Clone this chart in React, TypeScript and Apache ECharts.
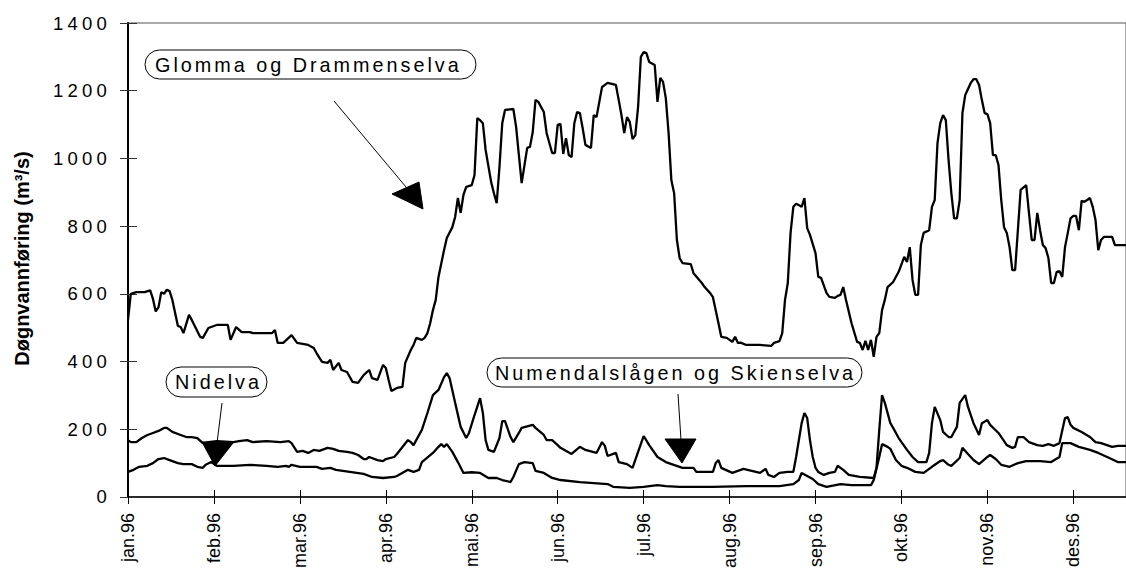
import React, { useEffect, useRef } from "react";
import * as echarts from "echarts";

const FONT = "'Liberation Sans', Arial, sans-serif";

const monthLabels = ["jan.96", "feb.96", "mar.96", "apr.96", "mai.96", "jun.96", "jul.96", "aug.96", "sep.96", "okt.96", "nov.96", "des.96"];
const yTicks = { min: 0, max: 1400, step: 200 };

// Glomma og Drammenselva (day of year, m3/s)
const glommaDays = [0, 1, 3, 6, 8, 9, 10, 11, 12, 13, 14, 15, 16, 18, 19, 20, 22, 23, 26, 27, 29, 32, 36, 37, 39, 41, 44, 45, 52, 53, 54, 56, 59, 61, 65, 67, 68, 70, 72, 73, 74, 76, 77, 79, 81, 83, 85, 87, 88, 90, 92, 93, 94, 95, 97, 99, 100, 102, 103, 104, 106, 107, 108, 109, 110, 111, 112, 114, 115, 117, 118, 119, 120, 121, 122, 124, 125, 126, 127, 128, 129, 131, 132, 133, 134, 135, 136, 139, 140, 141, 142, 144, 145, 146, 147, 148, 150, 151, 153, 154, 155, 156, 157, 158, 159, 160, 161, 162, 163, 164, 165, 167, 168, 169, 171, 173, 176, 177, 178, 179, 180, 181, 182, 183, 184, 185, 186, 187, 188, 190, 191, 192, 193, 194, 195, 196, 197, 198, 199, 200, 203, 204, 207, 208, 210, 211, 213, 214, 216, 218, 219, 220, 221, 223, 228, 232, 233, 235, 236, 237, 238, 239, 240, 241, 242, 243, 244, 245, 246, 248, 249, 250, 252, 253, 255, 256, 257, 258, 259, 261, 263, 264, 265, 266, 267, 268, 269, 270, 271, 272, 273, 274, 276, 278, 280, 281, 282, 283, 284, 285, 286, 287, 289, 290, 291, 292, 293, 294, 295, 296, 297, 298, 299, 300, 301, 302, 303, 304, 305, 306, 307, 308, 309, 310, 311, 312, 313, 314, 315, 316, 317, 318, 319, 320, 322, 324, 325, 326, 327, 328, 329, 330, 331, 332, 333, 334, 335, 336, 337, 338, 339, 340, 341, 342, 343, 344, 345, 346, 347, 348, 349, 350, 351, 352, 355, 356, 360];
const glommaValues = [523, 600, 605, 605, 610, 585, 548, 560, 605, 600, 612, 608, 582, 505, 502, 484, 538, 523, 473, 470, 499, 508, 508, 464, 502, 487, 487, 484, 484, 493, 455, 455, 478, 455, 449, 440, 425, 399, 396, 405, 375, 396, 375, 369, 340, 337, 360, 375, 351, 346, 390, 381, 346, 313, 322, 325, 396, 434, 449, 470, 464, 470, 484, 513, 552, 582, 650, 729, 765, 797, 827, 883, 839, 892, 916, 921, 951, 1119, 1113, 1104, 1025, 930, 897, 868, 975, 1104, 1143, 1146, 1093, 1010, 927, 1031, 1034, 1078, 1173, 1167, 1137, 1075, 1016, 1016, 1099, 1102, 1013, 1060, 1010, 1004, 1104, 1137, 1134, 1090, 1040, 1031, 1128, 1122, 1211, 1223, 1217, 1173, 1128, 1075, 1122, 1108, 1057, 1069, 1152, 1300, 1314, 1311, 1285, 1276, 1167, 1238, 1226, 1178, 1075, 936, 897, 759, 705, 691, 688, 661, 632, 620, 602, 590, 513, 473, 470, 458, 473, 455, 456, 449, 449, 446, 455, 460, 484, 582, 632, 780, 857, 866, 862, 857, 883, 794, 774, 720, 650, 647, 602, 591, 588, 594, 597, 620, 582, 513, 458, 455, 434, 461, 434, 464, 414, 473, 484, 552, 582, 620, 635, 665, 709, 694, 738, 641, 597, 597, 744, 780, 788, 857, 877, 1045, 1104, 1128, 1113, 995, 897, 823, 823, 877, 1134, 1187, 1205, 1223, 1234, 1234, 1217, 1173, 1134, 1131, 1104, 1010, 1010, 981, 877, 797, 780, 738, 670, 670, 907, 921, 839, 759, 759, 839, 788, 744, 735, 706, 632, 632, 665, 667, 650, 738, 780, 823, 830, 830, 788, 875, 872, 877, 883, 857, 818, 729, 759, 768, 768, 744, 744];

// Numendalslågen og Skienselva
const numedalDays = [0, 1, 3, 5, 7, 9, 11, 13, 14, 16, 19, 21, 23, 25, 27, 29, 32, 38, 40, 43, 45, 50, 55, 58, 59, 61, 63, 65, 67, 69, 72, 74, 76, 79, 81, 83, 85, 86, 87, 90, 92, 93, 96, 97, 101, 102, 103, 106, 108, 110, 112, 114, 115, 116, 118, 120, 122, 123, 125, 127, 128, 129, 130, 132, 134, 135, 136, 138, 139, 141, 142, 146, 147, 150, 151, 153, 155, 156, 160, 163, 165, 169, 171, 172, 173, 176, 177, 180, 182, 184, 186, 188, 191, 194, 200, 204, 205, 211, 212, 213, 214, 218, 222, 228, 230, 231, 233, 235, 238, 240, 241, 243, 244, 245, 246, 247, 248, 249, 251, 253, 255, 256, 258, 260, 264, 269, 270, 271, 272, 273, 275, 276, 278, 281, 283, 285, 288, 289, 290, 291, 293, 294, 296, 297, 299, 300, 302, 303, 305, 307, 308, 310, 311, 314, 317, 319, 320, 321, 323, 325, 328, 330, 332, 334, 336, 338, 339, 340, 341, 344, 347, 349, 351, 355, 357, 360];
const numedalValues = [168, 162, 162, 174, 183, 189, 195, 204, 204, 192, 183, 177, 177, 174, 159, 162, 165, 162, 165, 168, 162, 165, 162, 165, 159, 133, 136, 130, 139, 136, 145, 142, 136, 133, 130, 124, 112, 112, 118, 109, 106, 112, 118, 127, 168, 162, 153, 198, 248, 301, 316, 354, 366, 351, 278, 207, 174, 189, 242, 292, 248, 168, 139, 133, 174, 224, 224, 177, 162, 189, 204, 213, 204, 183, 168, 168, 153, 145, 127, 148, 139, 130, 162, 151, 121, 130, 103, 97, 86, 133, 180, 153, 118, 103, 86, 86, 74, 74, 100, 109, 86, 71, 83, 71, 83, 65, 59, 71, 74, 74, 118, 218, 248, 233, 168, 118, 86, 74, 65, 71, 74, 92, 80, 65, 59, 56, 86, 198, 301, 278, 218, 204, 174, 139, 118, 103, 103, 130, 218, 266, 227, 192, 177, 177, 207, 278, 301, 266, 218, 183, 218, 227, 213, 189, 153, 145, 148, 177, 177, 162, 153, 151, 156, 151, 159, 233, 236, 213, 204, 192, 177, 162, 159, 148, 151, 151];

// Nidelva
const nidelvaDays = [0, 2, 4, 7, 9, 11, 13, 15, 18, 20, 23, 25, 27, 28, 30, 32, 38, 44, 50, 54, 57, 58, 59, 62, 68, 70, 73, 75, 80, 85, 88, 92, 96, 97, 101, 103, 105, 106, 110, 112, 113, 114, 115, 117, 119, 121, 124, 127, 130, 133, 135, 138, 139, 141, 143, 146, 147, 150, 153, 156, 163, 168, 173, 175, 181, 186, 191, 194, 199, 211, 223, 235, 240, 242, 243, 245, 247, 249, 252, 257, 261, 268, 269, 271, 272, 274, 275, 277, 279, 281, 284, 287, 288, 290, 293, 294, 296, 297, 300, 301, 303, 305, 307, 310, 311, 313, 315, 318, 321, 324, 329, 333, 336, 337, 340, 343, 347, 350, 354, 357, 360];
const nidelvaValues = [74, 80, 89, 92, 100, 112, 115, 109, 100, 97, 97, 89, 86, 95, 103, 92, 92, 95, 92, 89, 92, 89, 95, 89, 89, 83, 86, 80, 74, 68, 59, 56, 59, 62, 80, 74, 80, 103, 130, 148, 156, 148, 156, 133, 103, 71, 73, 71, 56, 56, 50, 44, 59, 97, 103, 100, 77, 71, 56, 50, 44, 41, 38, 30, 27, 30, 35, 32, 30, 30, 32, 32, 38, 50, 71, 62, 53, 38, 30, 38, 35, 35, 50, 118, 156, 148, 142, 109, 92, 86, 74, 71, 77, 89, 106, 109, 95, 92, 115, 145, 127, 109, 97, 118, 124, 112, 95, 89, 100, 106, 106, 103, 118, 159, 159, 148, 139, 130, 115, 103, 103];

const zip = (d: number[], v: number[]) => d.map((x, i) => [x, v[i]]);

const css = `
.chart-host text[style*="18.5px"] { letter-spacing: 4.2px; }
.chart-host text[style*="19.8px"] { letter-spacing: 3px; }
`;

function lineSeries(name: string, days: number[], values: number[]) {
  return {
    name,
    type: "line",
    data: zip(days, values),
    showSymbol: false,
    symbol: "none",
    xAxisIndex: 0,
    yAxisIndex: 0,
    lineStyle: { color: "#000", width: 2.3 },
    z: 3,
  };
}

export default function App() {
  const ref = useRef<HTMLDivElement>(null);
  useEffect(() => {
    if (!ref.current) return;
    const chart = echarts.init(ref.current, null, { renderer: "svg" });
    const xCommon = {
      type: "value",
      min: 0,
      max: 360,
      interval: 31,
      position: "bottom",
      splitLine: { show: false },
    };
    const yCommon = {
      type: "value",
      min: yTicks.min,
      max: yTicks.max,
      interval: yTicks.step,
      position: "left",
      splitLine: { show: false },
    };
    const annText = (text: string, x: number, y: number) => ({
      type: "text",
      x,
      y,
      z: 20,
      style: { text, fontSize: 19.8, fontFamily: FONT, fill: "#000", align: "left", verticalAlign: "middle" },
    });
    const capsule = (x: number, y: number, w: number, h: number) => ({
      type: "rect",
      z: 19,
      shape: { x, y, width: w, height: h, r: h / 2 },
      style: { fill: "#fff", stroke: "#000", lineWidth: 1 },
    });
    const pointer = (x1: number, y1: number, x2: number, y2: number) => ({
      type: "line",
      z: 19,
      shape: { x1, y1, x2, y2 },
      style: { stroke: "#000", lineWidth: 1 },
    });
    const head = (pts: number[][]) => ({
      type: "polygon",
      z: 19,
      shape: { points: pts },
      style: { fill: "#000", stroke: "#000", lineWidth: 1 },
    });
    chart.setOption({
      animation: false,
      backgroundColor: "#fff",
      textStyle: { fontFamily: FONT },
      grid: { left: 128, top: 23, right: -1, bottom: 74, show: true, borderColor: "#555", borderWidth: 1, backgroundColor: "transparent" },
      xAxis: [
        {
          ...xCommon,
          axisLine: { show: true, onZero: false, lineStyle: { color: "#000", width: 1.5 } },
          axisTick: { show: true, length: 7, lineStyle: { color: "#000", width: 1 } },
          axisLabel: {
            show: true,
            rotate: 90,
            margin: 16,
            fontSize: 18,
            color: "#000",
            fontFamily: FONT,
            showMaxLabel: false,
            formatter: (v: number) => (v % 31 === 0 && monthLabels[v / 31] ? monthLabels[v / 31] : ""),
          },
        },
        {
          ...xCommon,
          axisLine: { show: false, onZero: false },
          axisTick: { show: true, inside: true, length: 7, lineStyle: { color: "#000", width: 1 } },
          axisLabel: { show: false },
        },
      ],
      yAxis: [
        {
          ...yCommon,
          axisLine: { show: true, onZero: false, lineStyle: { color: "#000", width: 2 } },
          axisTick: { show: true, length: 8, lineStyle: { color: "#333", width: 1 } },
          axisLabel: { show: true, margin: 17, fontSize: 18.5, color: "#000", fontFamily: FONT, formatter: (v: number) => String(v) },
        },
        {
          ...yCommon,
          axisLine: { show: false, onZero: false },
          axisTick: { show: true, inside: true, length: 9, lineStyle: { color: "#333", width: 1 } },
          axisLabel: { show: false },
        },
      ],
      series: [
        lineSeries("Glomma og Drammenselva", glommaDays, glommaValues),
        lineSeries("Numendalslågen og Skienselva", numedalDays, numedalValues),
        lineSeries("Nidelva", nidelvaDays, nidelvaValues),
      ],
      graphic: [
        {
          type: "text",
          x: 22,
          y: 258.5,
          rotation: Math.PI / 2,
          z: 20,
          style: { text: "Døgnvannføring (m³/s)", fontSize: 20, fontWeight: "bold", fontFamily: FONT, fill: "#000", align: "center", verticalAlign: "middle" },
        },
        capsule(145, 50, 331, 29),
        annText("Glomma og Drammenselva", 155, 64.5),
        pointer(334, 101, 406, 187),
        head([[392, 194], [419, 182], [423, 209]]),
        capsule(166, 367, 101, 30),
        annText("Nidelva", 175, 382),
        pointer(222, 403, 217, 443),
        head([[202, 442], [233, 443], [215, 466]]),
        capsule(487, 358, 375, 29),
        annText("Numendalslågen og Skienselva", 495, 372.5),
        pointer(678, 394, 681, 440),
        head([[665, 439], [696, 439], [682, 463]]),
      ],
    });
    return () => chart.dispose();
  }, []);
  return (
    <>
      <style>{css}</style>
      <div
        ref={ref}
        className="chart-host"
        style={{ position: "fixed", left: 0, top: 0, width: 1126, height: 571, background: "#fff" }}
      />
    </>
  );
}
